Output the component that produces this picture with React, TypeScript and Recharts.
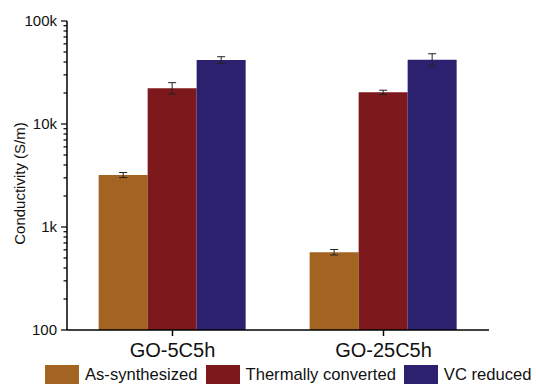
import { BarChart, Bar, XAxis, YAxis, ErrorBar, Label } from "recharts";

const categories = ["GO-5C5h", "GO-25C5h"];
const asSynthesized = [3200, 570];
const asSynthesizedErr = [[180, 180], [35, 35]];
const thermallyConverted = [22200, 20300];
const thermallyConvertedErr = [[2600, 3000], [900, 1000]];
const vcReduced = [41800, 42100];
const vcReducedErr = [[3000, 3200], [5200, 6000]];
const majorTicks = [100, 1000, 10000, 100000];
const majorLabels = ["100", "1k", "10k", "100k"];

const series = [
  { key: "as", errKey: "asErr", name: "As-synthesized", color: "#A36321" },
  { key: "th", errKey: "thErr", name: "Thermally converted", color: "#7D191C" },
  { key: "vc", errKey: "vcErr", name: "VC reduced", color: "#2C216F" },
];

const data = categories.map((name, i) => ({
  name,
  as: asSynthesized[i],
  asErr: asSynthesizedErr[i],
  th: thermallyConverted[i],
  thErr: thermallyConvertedErr[i],
  vc: vcReduced[i],
  vcErr: vcReducedErr[i],
}));

// log axis: majors plus 2..9 minors between them
const allTicks: number[] = [];
majorTicks.forEach((t, i) => {
  allTicks.push(t);
  if (i < majorTicks.length - 1) {
    for (let m = 2; m <= 9; m++) allTicks.push(t * m);
  }
});

const font = "Arial, 'Liberation Sans', sans-serif";

function LogTick(props: any) {
  const { x, y, payload } = props;
  const idx = majorTicks.indexOf(payload.value);
  const major = idx >= 0;
  return (
    <g>
      <line x1={x - (major ? 6 : 3.5)} x2={x} y1={y} y2={y} stroke="#000" strokeWidth={1.2} />
      {major && (
        <text x={x - 10} y={y + 5} textAnchor="end" fontSize={15} fill="#111" fontFamily={font}>
          {majorLabels[idx]}
        </text>
      )}
    </g>
  );
}

function YTitle(props: any) {
  const { viewBox } = props;
  const cx = 25;
  const cy = viewBox.y + viewBox.height / 2 + 8;
  return (
    <text
      x={cx}
      y={cy}
      transform={`rotate(-90, ${cx}, ${cy})`}
      textAnchor="middle"
      fontSize={15}
      fill="#111"
      fontFamily={font}
    >
      Conductivity (S/m)
    </text>
  );
}

export default function App() {
  return (
    <div style={{ position: "absolute", left: 0, top: 0, width: 536, height: 384, background: "#fff", fontFamily: font }}>
      <BarChart
        width={536}
        height={384}
        data={data}
        margin={{ top: 21, right: 47, left: 0, bottom: 0 }}
        barCategoryGap="15%"
        barGap={0}
      >
        <XAxis
          dataKey="name"
          height={54}
          stroke="#000"
          strokeWidth={1.5}
          tickSize={6}
          tickMargin={7}
          tick={{ fontSize: 20, fill: "#111", fontFamily: font }}
        />
        <XAxis xAxisId="top" orientation="top" dataKey="name" height={0} tick={false} tickLine={false} stroke="#000" strokeWidth={1.5} />
        <YAxis
          scale="log"
          domain={[100, 100000]}
          ticks={allTicks}
          interval={0}
          allowDataOverflow
          width={67}
          stroke="#000"
          strokeWidth={1.5}
          tickLine={false}
          tickSize={0}
          tickMargin={0}
          tick={<LogTick />}
        >
          <Label content={<YTitle />} />
        </YAxis>
        <YAxis yAxisId="right" orientation="right" scale="log" domain={[100, 100000]} width={0} tick={false} tickLine={false} stroke="#000" strokeWidth={1.5} />
        {series.map((s) => (
          <Bar key={s.key} dataKey={s.key} name={s.name} fill={s.color} isAnimationActive={false}>
            <ErrorBar dataKey={s.errKey} width={4} stroke="#222" strokeWidth={1} direction="y" />
          </Bar>
        ))}
      </BarChart>

      {/* Legend */}
      <div style={{ position: "absolute", left: 45, top: 365, display: "flex", alignItems: "center", fontSize: 16.6, color: "#111", whiteSpace: "nowrap" }}>
        {series.map((s, i) => (
          <div key={s.key} style={{ display: "flex", alignItems: "center", marginLeft: i === 0 ? 0 : 8 }}>
            <span style={{ display: "inline-block", width: 34, height: 20, background: s.color, marginRight: 6 }} />
            <span>{s.name}</span>
          </div>
        ))}
      </div>
    </div>
  );
}
